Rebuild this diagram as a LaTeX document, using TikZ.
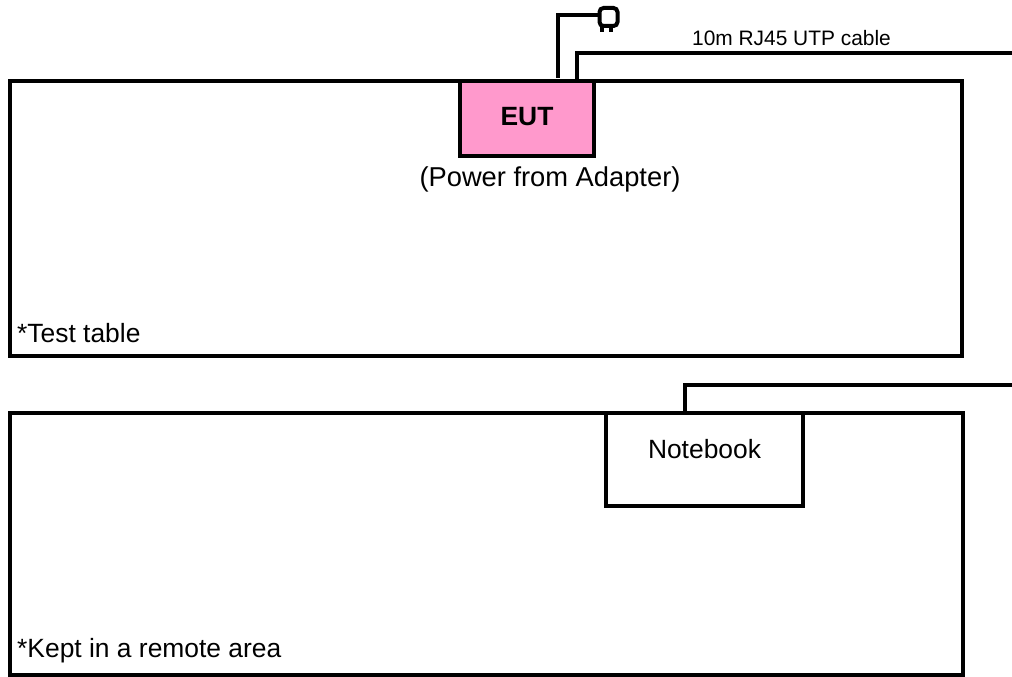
\documentclass[tikz,border=0pt]{standalone}
\usepackage{fontspec}
\setmainfont{Liberation Sans}
\usetikzlibrary{calc}
\tikzset{
  px/.style={x=1pt,y=-1pt},
  boxline/.style={draw=black,line width=4pt},
  wire/.style={draw=black,line width=4pt,line join=miter},
  tablebox/.style={boxline,fill=white,rectangle,inner sep=0pt,outer sep=0pt,anchor=north west},
  lbl/.style={inner sep=0pt,font=\fontsize{26.4}{30}\selectfont,text=black},
}
\definecolor{eutpink}{RGB}{255,153,204}
\begin{document}
\begin{tikzpicture}[px]
\useasboundingbox (0,0) rectangle (1012,677);
% tables
\node[tablebox,minimum width=952pt,minimum height=275pt] (test) at (10,81) {};
\node[tablebox,minimum width=953pt,minimum height=262pt] (remote) at (10,413) {};
% devices
\node[tablebox,fill=eutpink,minimum width=134pt,minimum height=75pt] (eut) at (460,81) {};
\node[tablebox,minimum width=197pt,minimum height=93pt] (nb) at (606,413) {};
% labels
\node[lbl,font=\bfseries\fontsize{26.4}{30}\selectfont] (eutl) at (527,117) {EUT};
\node[lbl] (nbl) at (704.5,449) {Notebook};
\node[lbl,font=\fontsize{27.3}{31}\selectfont] (pow) at (550,179.5) {(Power from Adapter)};
\node[lbl,anchor=base west] (tt) at (17,342) {*Test table};
\node[lbl,anchor=base west] (kr) at (17,657) {*Kept in a remote area};
\node[inner sep=0pt,font=\fontsize{20.9}{24}\selectfont] (cab) at (791.5,38) {10m RJ45 UTP cable};
% plug
\node[draw=black,line width=4pt,rounded corners=4pt,fill=white,minimum width=18pt,minimum height=18pt,inner sep=0pt,outer sep=0pt] (plug) at (608.5,17) {};
\coordinate (p1) at (602,27);
\coordinate (p2) at (602,32);
\coordinate (p3) at (611,27);
\coordinate (p4) at (611,32);
\draw[line width=4pt] (p1) -- (p2);
\draw[line width=4pt] (p3) -- (p4);
% wires
\coordinate (pw0) at (558,78);
\coordinate (pw1) at (558,15);
\coordinate (c0) at (577,80);
\coordinate (c1) at (577,53);
\coordinate (c2) at (1012,53);
\coordinate (n0) at (685,412);
\coordinate (n1) at (685,385);
\coordinate (n2) at (1012,385);
\draw[wire] (pw0) -- (pw1) -- (pw1 -| plug.west);
\draw[wire] (c0) -- (c1) -- (c2);
\draw[wire] (n0) -- (n1) -- (n2);
\end{tikzpicture}
\end{document}
